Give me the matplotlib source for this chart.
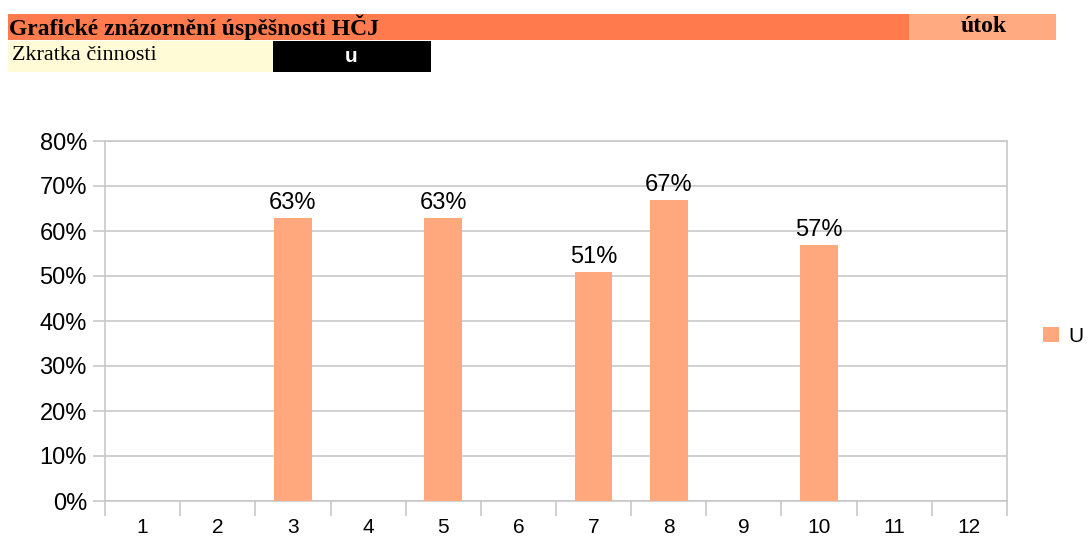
import matplotlib.pyplot as plt
from matplotlib.patches import Rectangle

# data
categories = [1, 2, 3, 4, 5, 6, 7, 8, 9, 10, 11, 12]
values = [None, None, 0.63, None, 0.63, None, 0.51, 0.67, None, 0.57, None, None]
series_name = "U"

title_text = "Grafické znázornění úspěšnosti HČJ"
type_text = "útok"
abbr_label = "Zkratka činnosti"
abbr_value = "u"

bar_color = "#FFA87E"
grid_color = "#C8C8C8"

W, H = 1089, 542
fig = plt.figure(figsize=(W / 100, H / 100), dpi=100)

# header cells, drawn in figure pixel coords
def cell(x0, y0, x1, y1, color):
    fig.patches.append(Rectangle((x0 / W, 1 - y1 / H), (x1 - x0) / W, (y1 - y0) / H,
                                 transform=fig.transFigure, facecolor=color,
                                 edgecolor="none", zorder=0))

cell(8, 14, 909, 40, "#FF7B4D")
cell(909, 14, 1056, 40, "#FFAA80")
cell(8, 41, 273, 72, "#FFFBD6")
cell(273, 41, 431, 72, "#000000")

serif = ["Liberation Serif", "DejaVu Serif"]
sans = ["Liberation Sans", "DejaVu Sans"]
fig.text(9 / W, 1 - 27 / H, title_text, family=serif, fontweight="bold",
         fontsize=17, va="center", ha="left")
fig.text(984 / W, 1 - 27 / H, type_text, family=serif, fontweight="bold",
         fontsize=17, va="center", ha="center")
fig.text(12 / W, 1 - 55 / H, abbr_label, family=serif, fontsize=16,
         va="center", ha="left")
fig.text(351 / W, 1 - 57 / H, abbr_value, family=sans,
         fontweight="bold", fontsize=15, color="white", va="center", ha="center")

# chart
ax = fig.add_axes([105 / W, (H - 501) / H, (1007 - 105) / W, (501 - 141) / H])
xs = [c for c, v in zip(categories, values) if v is not None]
ys = [v for v in values if v is not None]
bars = ax.bar(xs, ys, width=0.5, color=bar_color, label=series_name, zorder=3)

for b, v in zip(bars, ys):
    ax.text(b.get_x() + b.get_width() / 2, v + 0.008, f"{v:.0%}",
            ha="center", va="bottom", fontsize=17, family=sans)

ax.set_xlim(0.5, 12.5)
ax.set_ylim(0, 0.8)
ax.set_yticks([i / 10 for i in range(9)])
ax.set_yticklabels([f"{i * 10}%" for i in range(9)], family=sans, fontsize=17)
ax.set_xticks(categories)
ax.set_xticklabels([str(c) for c in categories], family=sans, fontsize=15)
ax.set_xticks([c + 0.5 for c in [0] + categories], minor=True)
ax.tick_params(axis="x", which="major", length=0, pad=12)
ax.tick_params(axis="x", which="minor", length=11, color=grid_color, width=1.2)
ax.tick_params(axis="y", length=9, color=grid_color, width=1.2, pad=4)
ax.yaxis.grid(True, color=grid_color, linewidth=1.2, zorder=0)
ax.set_axisbelow(True)
for s in ax.spines.values():
    s.set_color(grid_color)
    s.set_linewidth(1.2)

fig.legend(handles=[bars], labels=[series_name], loc="center left",
           bbox_to_anchor=(1043 / W, 1 - 336 / H), frameon=False,
           borderpad=0, borderaxespad=0,
           prop={"family": sans, "size": 15}, handlelength=0.75,
           handleheight=0.75, handletextpad=0.45)

fig.savefig("out.png", dpi=100)
